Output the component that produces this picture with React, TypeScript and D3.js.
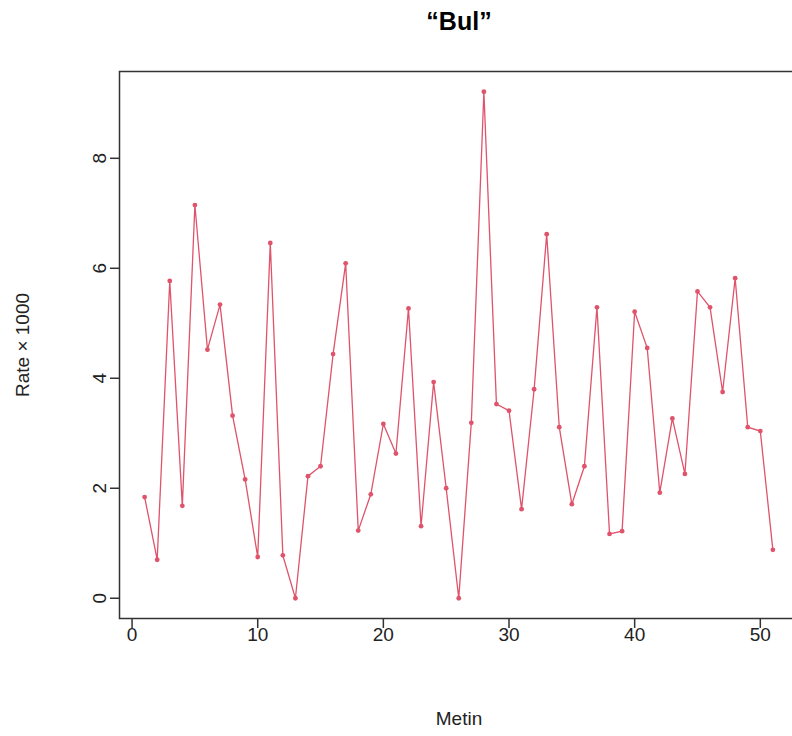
import React from "react";
import * as d3 from "d3";

const title = "\u201CBul\u201D";
const xLabel = "Metin";
const yLabel = "Rate \u00D7 1000";
const xTicks = [0, 10, 20, 30, 40, 50];
const yTicks = [0, 2, 4, 6, 8];
const values = [
  1.84, 0.70, 5.77, 1.68, 7.15, 4.52, 5.34, 3.32, 2.16, 0.75,
  6.46, 0.78, 0.00, 2.22, 2.40, 4.44, 6.09, 1.23, 1.89, 3.17,
  2.63, 5.27, 1.31, 3.93, 2.00, 0.00, 3.19, 9.21, 3.53, 3.41,
  1.62, 3.80, 6.62, 3.11, 1.71, 2.40, 5.29, 1.17, 1.22, 5.21,
  4.55, 1.92, 3.27, 2.26, 5.58, 5.29, 3.75, 5.82, 3.11, 3.04,
  0.88,
];
const index = values.map((_, i) => i + 1);

const W = 792;
const H = 736;
const color = "#DF536B";
const font = "'Liberation Sans', Arial, sans-serif";

export default function App() {
  const n = values.length;
  const xr = (n - 1) * 0.04;
  const yMax = d3.max(values) as number;
  const yr = yMax * 0.04;
  const x = d3.scaleLinear().domain([1 - xr, n + xr]).range([119.5, 798]);
  const y = d3.scaleLinear().domain([-yr, yMax + yr]).range([618.5, 71.5]);
  const line = d3
    .line<number>()
    .x((_, i) => x(index[i]))
    .y((d) => y(d));

  return (
    <svg
      width={W}
      height={H}
      style={{ position: "absolute", left: 0, top: 0, background: "#fff" }}
      fontFamily={font}
    >
      <rect x={0} y={0} width={W} height={H} fill="#fff" />
      <text
        x={459}
        y={30}
        textAnchor="middle"
        fontWeight="bold"
        fontSize={25}
        fill="#000"
      >
        {title}
      </text>
      <rect
        x={x.range()[0]}
        y={y.range()[1]}
        width={x.range()[1] - x.range()[0]}
        height={y.range()[0] - y.range()[1]}
        fill="none"
        stroke="#333"
        strokeWidth={1.5}
      />
      {xTicks.map((t) => (
        <g key={"x" + t}>
          <line
            x1={x(t)}
            x2={x(t)}
            y1={618.5}
            y2={628}
            stroke="#333"
            strokeWidth={1.5}
          />
          <text
            x={x(t)}
            y={641}
            textAnchor="middle"
            fontSize={19}
            fill="#222"
          >
            {t}
          </text>
        </g>
      ))}
      {yTicks.map((t) => (
        <g key={"y" + t}>
          <line
            x1={110}
            x2={119.5}
            y1={y(t)}
            y2={y(t)}
            stroke="#333"
            strokeWidth={1.5}
          />
          <text
            transform={`translate(${106},${y(t)}) rotate(-90)`}
            textAnchor="middle"
            fontSize={19}
            fill="#222"
          >
            {t}
          </text>
        </g>
      ))}
      <text x={459} y={725} textAnchor="middle" fontSize={19} fill="#222">
        {xLabel}
      </text>
      <text
        transform={`translate(${29},${345}) rotate(-90)`}
        textAnchor="middle"
        fontSize={19}
        fill="#222"
      >
        {yLabel}
      </text>
      <path d={line(values) || ""} fill="none" stroke={color} strokeWidth={1.3} />
      {values.map((v, i) => (
        <circle key={i} cx={x(index[i])} cy={y(v)} r={2.4} fill={color} />
      ))}
    </svg>
  );
}
